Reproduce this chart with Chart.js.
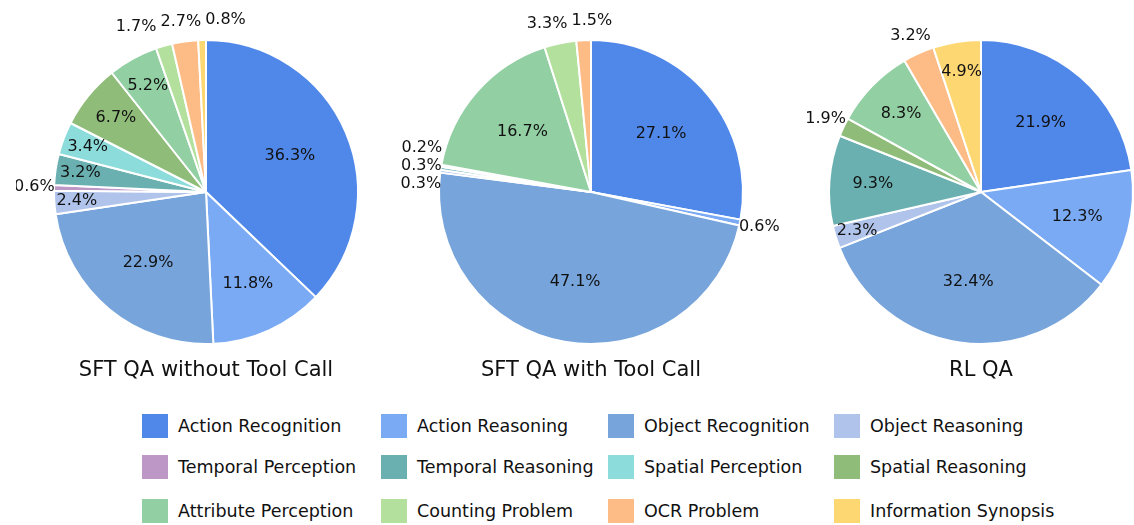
<!DOCTYPE html>
<html>
<head>
<meta charset="utf-8">
<script src="https://cdn.jsdelivr.net/npm/chart.js@4.4.0/dist/chart.umd.min.js"></script>
<style>
html, body { margin: 0; padding: 0; background: #fff; overflow: hidden; }
#wrap { position: relative; width: 1134px; height: 525px; overflow: hidden; }
.pie { position: absolute; top: 0; width: 380px; height: 392px; }
#legend {
  position: absolute; left: 142px; top: 414px;
  display: grid;
  grid-template-columns: 239px 227px 226px 226px;
  grid-template-rows: 41px 44px 24px;
  font-family: "DejaVu Sans", sans-serif; font-size: 17.5px; color: #111;
}
.item { display: flex; align-items: flex-start; height: 24px; white-space: nowrap; }
.sw { width: 26px; height: 24px; margin-right: 10px; flex: none; }
.item span { line-height: 24px; }
</style>
</head>
<body>
<div id="wrap">
  <div class="pie" style="left:16px"><canvas id="pie0"></canvas></div>
  <div class="pie" style="left:401px"><canvas id="pie1"></canvas></div>
  <div class="pie" style="left:791px"><canvas id="pie2"></canvas></div>
  <div id="legend"></div>
</div>
<script>
const categories = [
  'Action Recognition', 'Action Reasoning', 'Object Recognition', 'Object Reasoning',
  'Temporal Perception', 'Temporal Reasoning', 'Spatial Perception', 'Spatial Reasoning',
  'Attribute Perception', 'Counting Problem', 'OCR Problem', 'Information Synopsis'
];
const colors = [
  '#5088ea', '#7baaf5', '#76a4db', '#b0c4eb',
  '#bd98c6', '#6ab0b0', '#8cdcdb', '#8fbd79',
  '#92cfa3', '#b3e09c', '#fdbb85', '#fdd772'
];
const titles = ['SFT QA without Tool Call', 'SFT QA with Tool Call', 'RL QA'];

const sftNoTool = [36.3, 11.8, 22.9, 2.4, 0.6, 3.2, 3.4, 6.7, 5.2, 1.7, 2.7, 0.8];
const sftTool   = [27.1, 0.6, 47.1, 0.3, 0, 0.3, 0.2, 0, 16.7, 3.3, 1.5, 0];
const rlQa      = [21.9, 12.3, 32.4, 2.3, 0, 9.3, 0, 1.9, 8.3, 0, 3.2, 4.9];

const series = [sftNoTool, sftTool, rlQa];

// percent labels: inside when they fit, outside otherwise
const pctLabels = {
  id: 'pctLabels',
  afterDatasetsDraw(chart) {
    const ctx = chart.ctx;
    const values = chart.data.datasets[0].data;
    const meta = chart.getDatasetMeta(0);
    ctx.save();
    ctx.font = '16px "DejaVu Sans"';
    ctx.fillStyle = '#111';
    ctx.textAlign = 'center';
    ctx.textBaseline = 'middle';
    const h = 16;
    const outside = [];
    meta.data.forEach((arc, i) => {
      const v = values[i];
      if (!v) return;
      const p = arc.getProps(['x', 'y', 'startAngle', 'endAngle', 'outerRadius'], true);
      const mid = (p.startAngle + p.endAngle) / 2;
      const span = p.endAngle - p.startAngle;
      const text = v.toFixed(1) + '%';
      const w = ctx.measureText(text).width;
      const rIn = p.outerRadius * Math.min(0.87, Math.max(0.6, 0.9 - 0.02 * v));
      const extent = w * Math.abs(Math.sin(mid)) + h * Math.abs(Math.cos(mid));
      if (span * rIn >= 0.66 * extent) {
        ctx.fillText(text, p.x + Math.cos(mid) * rIn, p.y + Math.sin(mid) * rIn);
      } else {
        const r = p.outerRadius * 1.13;
        const x = p.x + Math.cos(mid) * r, y = p.y + Math.sin(mid) * r;
        outside.push({
          text, w, x, y, x0: x, y0: y,
          horiz: Math.abs(Math.sin(mid)) > Math.abs(Math.cos(mid))
        });
      }
    });
    // push overlapping outside labels apart, keeping their original order
    for (let it = 0; it < 40; it++) {
      for (let a = 0; a < outside.length; a++) {
        for (let b = a + 1; b < outside.length; b++) {
          const A = outside[a], B = outside[b];
          const needX = (A.w + B.w) / 2 + 4, needY = h + 2;
          const dx = B.x - A.x, dy = B.y - A.y;
          if (Math.abs(dx) >= needX || Math.abs(dy) >= needY) continue;
          if (A.horiz) {
            const s = B.x0 >= A.x0 ? 1 : -1;
            const m = (needX - s * dx) / 2 * s;
            A.x -= m; B.x += m;
          } else {
            const s = B.y0 >= A.y0 ? 1 : -1;
            const m = (needY - s * dy) / 2 * s;
            A.y -= m; B.y += m;
          }
        }
      }
    }
    outside.forEach(l => ctx.fillText(l.text, l.x, l.y));
    ctx.restore();
  }
};

series.forEach((vals, k) => {
  new Chart(document.getElementById('pie' + k), {
    type: 'pie',
    data: {
      labels: categories,
      datasets: [{
        data: vals,
        backgroundColor: colors,
        borderColor: '#ffffff',
        borderWidth: 2
      }]
    },
    options: {
      responsive: true,
      maintainAspectRatio: false,
      animation: false,
      layout: { padding: { top: 39, left: 0, right: 0, bottom: 0 } },
      plugins: {
        legend: { display: false },
        tooltip: { enabled: false },
        title: {
          display: true,
          text: titles[k],
          position: 'bottom',
          color: '#111',
          font: { family: 'DejaVu Sans', size: 21, weight: 'normal', lineHeight: 1.2 },
          padding: { top: 12.5, bottom: 9.3 }
        }
      }
    },
    plugins: [pctLabels]
  });
});

const legend = document.getElementById('legend');
categories.forEach((name, i) => {
  const item = document.createElement('div');
  item.className = 'item';
  item.innerHTML = '<div class="sw" style="background:' + colors[i] + '"></div><span>' + name + '</span>';
  legend.appendChild(item);
});
</script>
</body>
</html>
